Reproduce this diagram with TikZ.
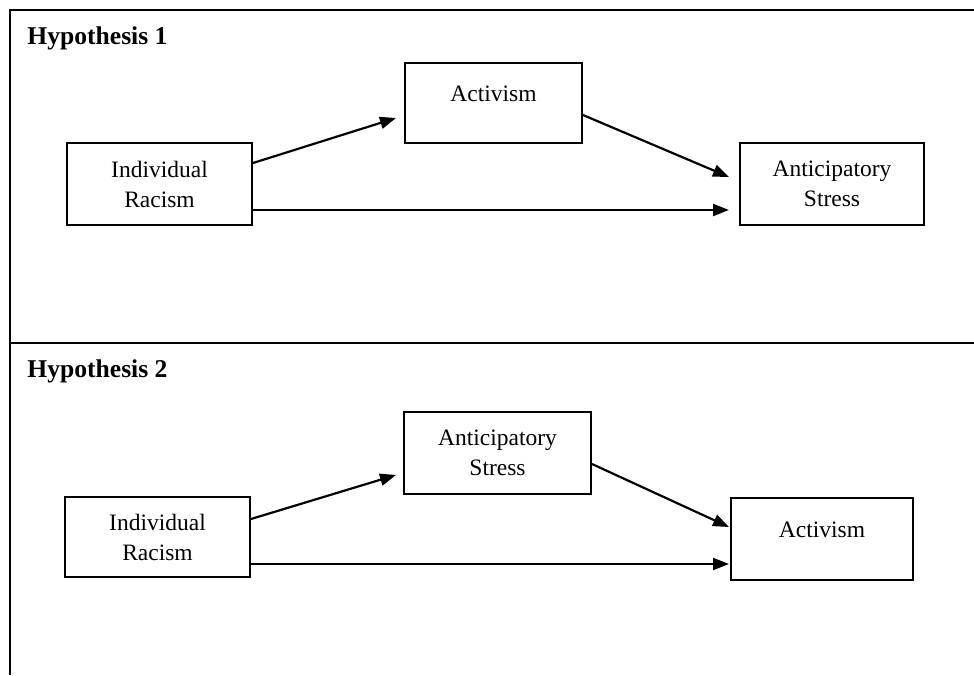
\documentclass[tikz,border=0pt]{standalone}
\usepackage{fontspec}
\setmainfont{Liberation Serif}
\usetikzlibrary{arrows.meta,calc}
\begin{document}
\begin{tikzpicture}[x=0.5pt,y=-0.5pt,font=\fontsize{11.75}{15}\selectfont,
  box/.style={draw,line width=1pt,inner sep=0pt,align=center},
  one/.style={text depth=9pt},
  arr/.style={line width=1.1pt,-{Triangle[length=8pt,width=6pt]}},
  hyp/.style={anchor=base west,inner sep=0pt,font=\fontsize{12.8}{15}\selectfont\bfseries}]
\useasboundingbox (0,0) rectangle (974,675);

% frame
\draw[line width=1.4pt] (974,10) -- (10,10) -- (10,675);
\draw[line width=1.4pt] (10,343) -- (974,343);

\node[hyp] (h1) at (27,44) {Hypothesis 1};
\node[hyp] (h2) at (27,377) {Hypothesis 2};

% hypothesis 1
\node[box,minimum width=92.5pt,minimum height=41pt] (ir1) at (159.5,184) {Individual\\Racism};
\node[box,one,minimum width=88.5pt,minimum height=40pt] (act1) at (493.5,103) {Activism};
\node[box,minimum width=92pt,minimum height=41pt] (as1) at (832,184) {Anticipatory\\Stress};

\draw[arr] ($(ir1.east)+(0,-21)$) -- ($(act1.west)+(-8,15)$);
\draw[arr] ($(act1.east)+(0,12)$) -- ($(as1.west)+(-10,-7)$);
\draw[arr] ($(ir1.east)+(0,26)$) -- ($(as1.west)+(-10,26)$);

% hypothesis 2
\node[box,minimum width=92.5pt,minimum height=40pt] (ir2) at (157.5,537) {Individual\\Racism};
\node[box,minimum width=93.5pt,minimum height=41pt] (as2) at (497.5,453) {Anticipatory\\Stress};
\node[box,one,minimum width=91pt,minimum height=41pt] (act2) at (822,539) {Activism};

\draw[arr] ($(ir2.east)+(0,-18)$) -- ($(as2.west)+(-7,22)$);
\draw[arr] ($(as2.east)+(0,11)$) -- ($(act2.west)+(-1,-12)$);
\draw[arr] ($(ir2.east)+(0,27)$) -- ($(act2.west)+(-1,25)$);

\end{tikzpicture}
\end{document}
